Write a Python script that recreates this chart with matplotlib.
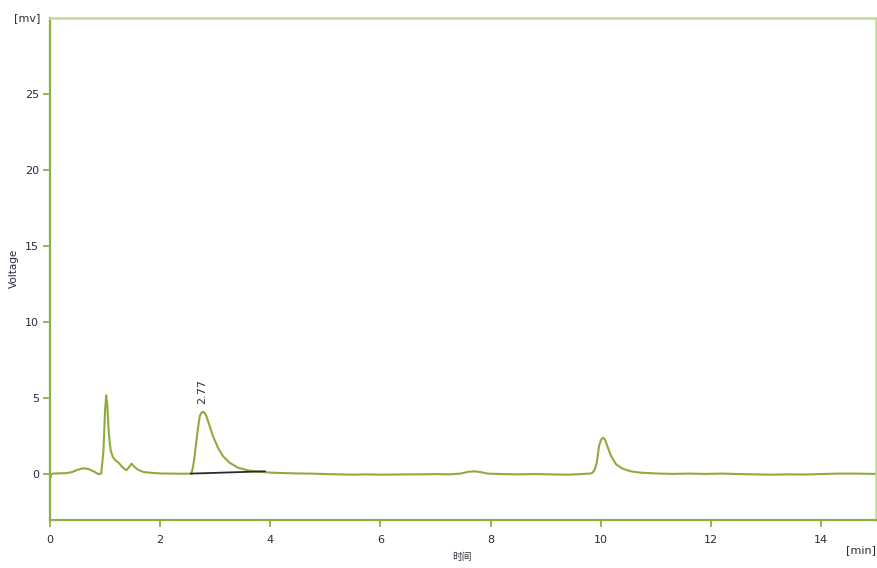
import matplotlib
matplotlib.use("Agg")
import matplotlib.pyplot as plt

# Data
time_min = [0.00, 0.02, 0.05, 0.10, 0.20, 0.30, 0.40, 0.50, 0.60, 0.70, 0.80, 0.88, 0.93,
            0.97, 1.00, 1.02, 1.04, 1.07, 1.10, 1.14, 1.18, 1.25, 1.32, 1.39, 1.43, 1.48,
            1.53, 1.60, 1.70, 1.85, 2.00, 2.20, 2.40, 2.55, 2.57, 2.60, 2.63, 2.68, 2.72,
            2.75, 2.78, 2.81, 2.84, 2.90, 2.96, 3.05, 3.14, 3.26, 3.41, 3.60, 3.78, 4.02,
            4.29, 4.50, 4.75, 5.00, 5.25, 5.50, 5.75, 6.00, 6.25, 6.50, 6.75, 7.00,
            7.25, 7.45, 7.60, 7.71, 7.82, 7.95, 8.20, 8.50, 8.80, 9.10, 9.40, 9.65, 9.80,
            9.85, 9.89, 9.93, 9.97, 10.01, 10.05, 10.08, 10.11, 10.15, 10.19, 10.28, 10.40,
            10.55, 10.73, 11.00, 11.30, 11.60, 11.90, 12.20, 12.50, 12.80, 13.10, 13.40,
            13.70, 14.00, 14.30, 14.60, 15.00]
voltage_mv = [-0.35, 0.00, 0.05, 0.06, 0.07, 0.08, 0.15, 0.30, 0.40, 0.35, 0.18, 0.02, 0.05,
              1.50, 4.20, 5.20, 4.60, 2.60, 1.60, 1.15, 0.95, 0.75, 0.45, 0.27, 0.45, 0.70,
              0.50, 0.30, 0.15, 0.10, 0.06, 0.05, 0.04, 0.05, 0.07, 0.55, 1.31, 2.84, 3.83,
              4.05, 4.11, 4.02, 3.83, 3.17, 2.51, 1.75, 1.20, 0.77, 0.44, 0.26, 0.18, 0.11,
              0.08, 0.06, 0.05, 0.02, 0.00, -0.02, 0.00, -0.02, -0.01, 0.00, 0.00, 0.02,
              0.00, 0.05, 0.17, 0.20, 0.15, 0.05, 0.02, 0.00, 0.02, 0.00, -0.02, 0.02, 0.05,
              0.10, 0.30, 0.77, 1.86, 2.30, 2.41, 2.28, 1.97, 1.58, 1.20, 0.66, 0.37,
              0.20, 0.11, 0.06, 0.03, 0.05, 0.03, 0.05, 0.02, 0.00, -0.02, 0.00,
              -0.01, 0.02, 0.05, 0.05, 0.03]

# integration baseline of the labelled peak
baseline_t = [2.56, 3.90]
baseline_v = [0.05, 0.20]

peak_label = "2.77"
peak_t = 2.77
peak_v = 4.1

x_ticks = [0, 2, 4, 6, 8, 10, 12, 14]
y_ticks = [0, 5, 10, 15, 20, 25]

line_color = "#8eac3c"
spine_dark = "#8fb043"
spine_light = "#c5d69f"
text_color = "#2b2b3a"

W, H = 878, 568
fig = plt.figure(figsize=(W / 100, H / 100), dpi=100)
ax = fig.add_axes([50 / W, 1 - 520 / H, 826 / W, 502 / H])

ax.plot(time_min, voltage_mv, color=line_color, lw=1.5, solid_joinstyle="round")
ax.plot(baseline_t, baseline_v, color="#2a2a2a", lw=1.3)

ax.text(peak_t, peak_v + 0.5, peak_label, rotation=90, ha="center", va="bottom",
        fontsize=8, color=text_color)

ax.set_xlim(0, 15)
ax.set_ylim(-3, 30)
ax.set_xticks(x_ticks)
ax.set_yticks(y_ticks)

for side in ("left", "bottom"):
    ax.spines[side].set_color(spine_dark)
    ax.spines[side].set_linewidth(1.6)
for side in ("top", "right"):
    ax.spines[side].set_color(spine_light)
    ax.spines[side].set_linewidth(1.8)

ax.tick_params(axis="both", direction="out", length=5, width=1.3, color=spine_dark,
               labelsize=8, labelcolor=text_color, pad=3)
ax.tick_params(axis="x", pad=6)

ax.text(-0.012, 30, "[mv]", transform=ax.get_yaxis_transform(), ha="right", va="center",
        fontsize=8, color=text_color)
ax.text(1.0, -0.06, "[min]", transform=ax.transAxes, ha="right", va="center",
        fontsize=8, color=text_color)

fig.text(14 / W, 1 - 268 / H, "Voltage", rotation=90, ha="center", va="center",
         fontsize=7.5, color=text_color)
fig.text(462 / W, 1 - 557 / H, "时间", ha="center", va="center", fontsize=7,
         color=text_color, family=["Noto Sans CJK SC", "DejaVu Sans"])

fig.savefig("out.png", dpi=100)
